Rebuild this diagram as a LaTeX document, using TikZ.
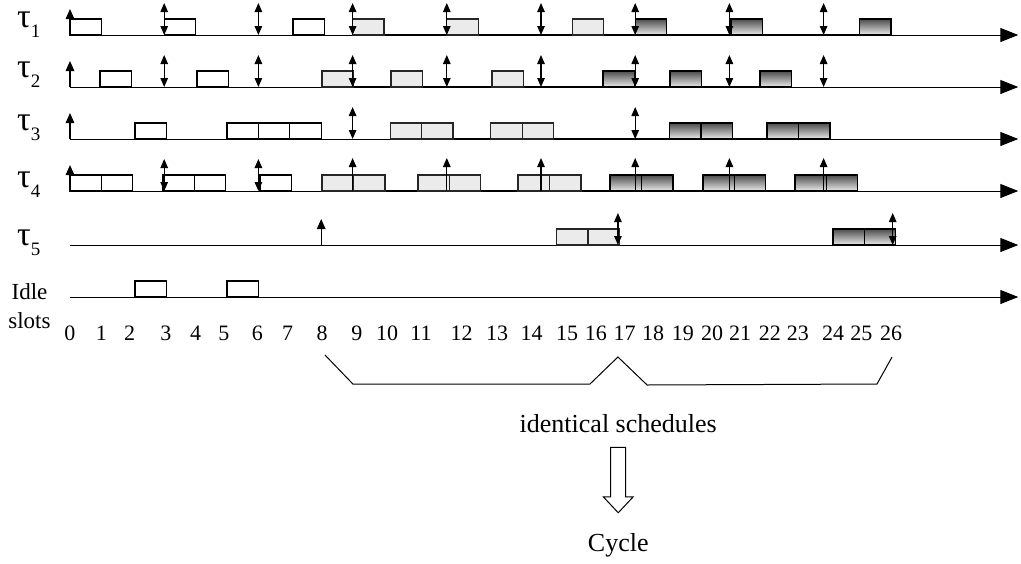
\documentclass[tikz,border=0pt]{standalone}
\usepackage{fontspec}
\setmainfont{Liberation Serif}
\usetikzlibrary{arrows.meta,calc}

% task name: upright tau with a large index
\newcommand{\tsk}[1]{{\fontsize{34}{34}\selectfont τ}\raisebox{-10pt}{\fontsize{19}{19}\selectfont #1}}

\begin{document}
\begin{tikzpicture}[
  x=31.4pt, y=1pt, inner sep=0pt,
  font=\fontsize{22}{26}\selectfont,
  >={Triangle[length=9pt,width=7.5pt]},
  axis/.style={-{Triangle[length=18pt,width=14pt]}, line width=1pt},
  busy/.style={line width=2pt},
  slot/.style={draw, line width=1.3pt, fill=white},
  slotlight/.style={slot, draw=black!85, fill=black!8},
  slotdark/.style={slot, top color=black!70, bottom color=black!8},
  release/.style={-{Triangle[length=10pt,width=8.5pt]}, line width=1.3pt},
  period/.style={<->, line width=1.2pt},
  big/.style={font=\fontsize{26}{30}\selectfont}
]
  \useasboundingbox (-70pt,0pt) rectangle (951pt,-563pt);

  % time axes, one per row
  \foreach \y in {35,87,139,191,245,297}
    \draw[axis] (0,-\y) -- (30.2,-\y);
  \draw[busy] (9,-35) -- (26.16,-35);
  \draw[busy] (8.03,-87) -- (22.97,-87);
  \draw[busy] (10.2,-139) -- (24.1,-139);
  \draw[busy] (8.03,-191) -- (25.06,-191);

  % row labels
  \node[anchor=base west] (t1) at (-1.69,-27) {\tsk{1}};
  \node[anchor=base west] (t2) at (-1.69,-77) {\tsk{2}};
  \node[anchor=base west] (t3) at (-1.69,-130) {\tsk{3}};
  \node[anchor=base west] (t4) at (-1.69,-187) {\tsk{4}};
  \node[anchor=base west] (t5) at (-1.69,-245) {\tsk{5}};
  \node[anchor=north, align=center, font=\fontsize{23}{29}\selectfont] (idle) at (-1.29,-283) {Idle\\slots};

  % tau_1
  \foreach \t in {0,3,7.1} \draw[slot] (\t,-35) rectangle ++(1,16);
  \foreach \t in {9,12,16} \draw[slotlight] (\t,-35) rectangle ++(1,16);
  \foreach \t in {18,21.05,25.15} \draw[slotdark] (\t,-35) rectangle ++(1,16);
  % tau_2
  \foreach \t in {0.96,4.04} \draw[slot] (\t,-87) rectangle ++(1,16);
  \foreach \t in {8.03,10.22,13.44} \draw[slotlight] (\t,-87) rectangle ++(1,16);
  \foreach \t in {16.97,19.11,21.97} \draw[slotdark] (\t,-87) rectangle ++(1,16);
  % tau_3
  \foreach \t in {2.07,5,6,7} \draw[slot] (\t,-139) rectangle ++(1,16);
  \foreach \t in {10.2,11.2,13.4,14.4} \draw[slotlight] (\t,-139) rectangle ++(1,16);
  \foreach \t in {19.1,20.1,22.2,23.2} \draw[slotdark] (\t,-139) rectangle ++(1,16);
  % tau_4
  \foreach \t in {0,1,2.96,3.96,6.05} \draw[slot] (\t,-191) rectangle ++(1,16);
  \foreach \t in {8.03,9.03,11.08,12.08,14.27,15.27} \draw[slotlight] (\t,-191) rectangle ++(1,16);
  \foreach \t in {17.2,18.2,20.16,21.16,23.09,24.09} \draw[slotdark] (\t,-191) rectangle ++(1,16);
  % tau_5
  \foreach \t in {15.5,16.5} \draw[slotlight] (\t,-245) rectangle ++(1,16);
  \foreach \t in {24.3,25.3} \draw[slotdark] (\t,-245) rectangle ++(1,16);
  % idle slots
  \foreach \t in {2.07,5} \draw[slot] (\t,-297) rectangle ++(1,16);

  % releases and deadlines
  \foreach \y in {35,87,139,191} \draw[release] (0,-\y) -- ++(0,26);
  \draw[release] (8,-245) -- ++(0,26);
  \foreach \t in {3,6,...,24} {
    \draw[period] (\t,-35) -- ++(0,32);
    \draw[period] (\t,-87) -- ++(0,32);
  }
  \foreach \t in {9,18} \draw[period] (\t,-139) -- ++(0,32);
  \foreach \t in {3,6} \draw[period] (\t,-191) -- ++(0,32);
  \foreach \t in {9,12,...,24} \draw[->, line width=1.2pt] (\t,-191) -- ++(0,33);
  \foreach \t in {17.45,26.2} \draw[period] (\t,-245) -- ++(0,32);

  % slot numbers
  \foreach \n/\x in {0/0,1/1,2/1.9,3/3.05,4/4,5/4.9,6/5.97,7/6.93,8/8.03,9/9.14,
      10/10.1,11/11.18,12/12.47,13/13.6,14/14.7,15/15.83,16/16.75,17/17.66,18/18.57,
      19/19.52,20/20.45,21/21.34,22/22.29,23/23.18,24/24.3,25/25.2,26/26.15}
    \node[anchor=base] (l\n) at (\x,-340) {\n};

  % the two repeated stretches
  \draw[line width=1pt] (8.12,-355) -- (9.01,-384) -- (16.56,-384) -- (17.45,-357)
    -- (18.38,-385) -- (25.7,-384) -- (26.18,-357);

  \node[big, anchor=base] (same) at (17.46,-432) {identical schedules};
  \node[big, anchor=base] (cycle) at (17.46,-551) {Cycle};

  % hollow arrow
  \coordinate (shaft) at ($(same.south)+(0,-15pt)$);
  \coordinate (tip) at ($(cycle.north)+(0,20pt)$);
  \draw[line width=1pt] ($(shaft)+(-7.5pt,0)$) -- ($(shaft)+(7.5pt,0)$) -- ($(tip)+(7.5pt,16pt)$)
    -- ($(tip)+(15pt,16pt)$) -- (tip) -- ($(tip)+(-15pt,16pt)$) -- ($(tip)+(-7.5pt,16pt)$) -- cycle;
\end{tikzpicture}
\end{document}
